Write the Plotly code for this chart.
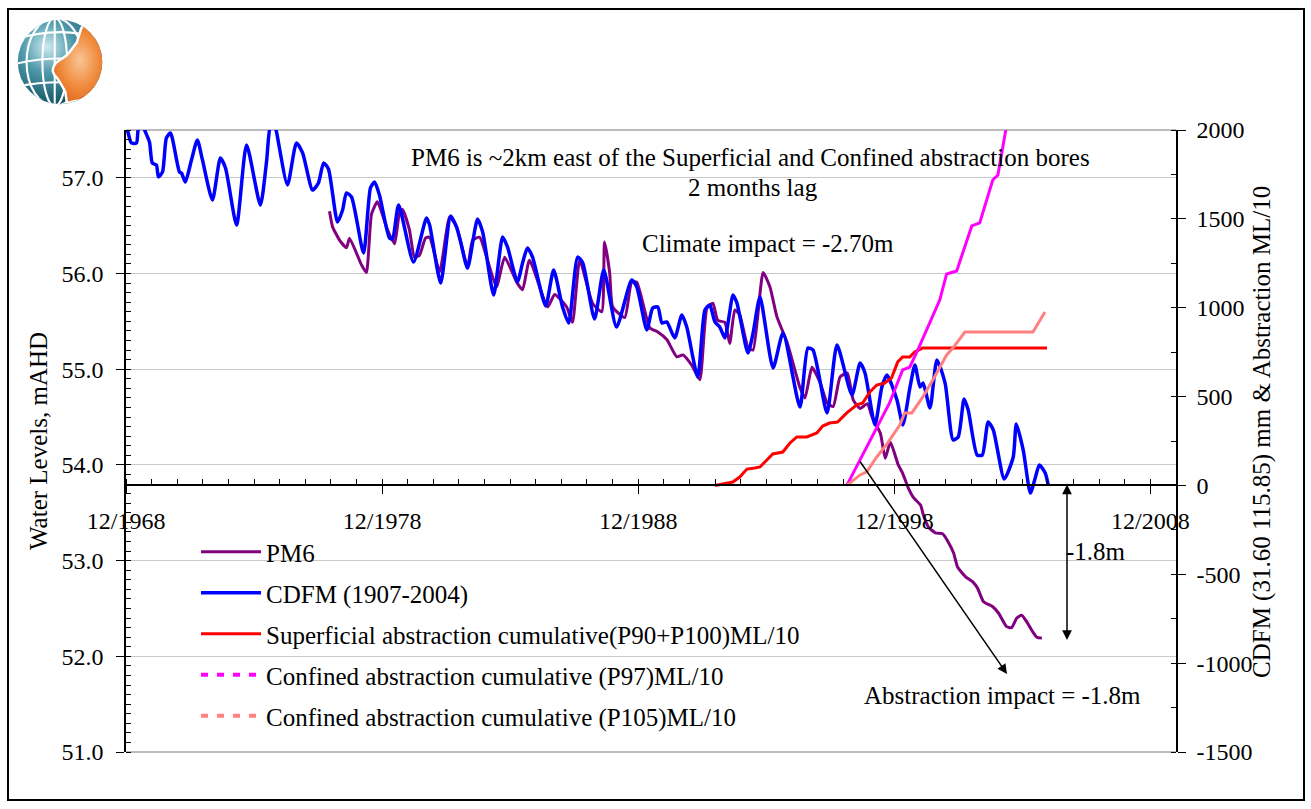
import base64
import pandas as pd
import plotly.graph_objects as go

# ---------------- data (decimal years) ----------------
# CDFM (1907-2004), mm  (right axis)
cdfm_t = [1968.89, 1968.97, 1969.12, 1969.32, 1969.40, 1969.55, 1969.67, 1969.83, 1969.94, 1970.10,
          1970.18, 1970.34, 1970.49, 1970.65, 1971.00, 1971.08, 1971.23, 1971.47, 1971.70, 1971.90,
          1972.29, 1972.60, 1972.80, 1973.23, 1973.62, 1974.16, 1974.40, 1974.56, 1974.71, 1974.79,
          1975.22, 1975.57, 1975.81, 1976.20, 1976.43, 1976.63, 1976.82, 1977.17, 1977.37, 1977.52,
          1977.72, 1978.19, 1978.46, 1978.62, 1978.81, 1979.20, 1979.32, 1979.56, 1980.14, 1980.65,
          1980.77, 1981.20, 1981.59, 1981.82, 1981.98, 1982.25, 1982.64, 1982.84, 1983.27, 1983.62,
          1983.81, 1984.20, 1984.40, 1984.59, 1984.79, 1985.30, 1985.61, 1985.96, 1986.20, 1986.55,
          1986.75, 1987.21, 1987.57, 1988.07, 1988.66, 1988.86, 1989.25, 1989.48, 1989.68, 1989.84,
          1990.03, 1990.34, 1990.62, 1990.81, 1991.24, 1991.52, 1991.71, 1991.91, 1992.10, 1992.30,
          1992.49, 1992.61, 1992.77, 1993.20, 1993.40, 1993.67, 1994.18, 1994.57, 1995.23, 1995.54,
          1995.74, 1996.29, 1996.68, 1997.26, 1997.58, 1997.77, 1998.16, 1998.43, 1998.63, 1999.02,
          1999.25, 1999.53, 1999.72, 1999.92, 2000.04, 2000.31, 2000.58, 2000.90, 2001.21, 2001.41,
          2001.64, 2001.80, 2002.15, 2002.35, 2002.58, 2002.78, 2003.21, 2003.56, 2003.68, 2003.95,
          2004.23, 2004.42, 2004.58, 2004.81, 2004.93]
cdfm_mm = [2028, 2000, 1927, 1927, 2011, 2028, 1989, 1932, 1814, 1803,
           1736, 1764, 1955, 1983, 1764, 1758, 1707, 1831, 1944, 1831,
           1606, 1842, 1786, 1465, 1916, 1578, 1820, 2028, 2034, 1989,
           1691, 1927, 1871, 1662, 1702, 1814, 1781, 1482, 1550, 1646,
           1623, 1308, 1674, 1707, 1634, 1392, 1387, 1578, 1257, 1505,
           1465, 1139, 1516, 1454, 1370, 1223, 1499, 1426, 1072, 1398,
           1342, 1145, 1252, 1336, 1285, 1010, 1212, 1004, 914, 1285,
           1252, 936, 1212, 891, 1156, 1117, 875, 998, 1004, 914,
           920, 830, 959, 891, 610, 987, 1015, 920, 891, 830,
           976, 1072, 1027, 745, 858, 1060, 661, 858, 441, 773,
           762, 408, 790, 509, 689, 633, 340, 554, 621, 481,
           340, 554, 678, 554, 576, 436, 706, 576, 256, 273,
           486, 424, 171, 171, 357, 312, 36, 160, 346, 199,
           -43, 42, 115, 70, 0]

# PM6 water level, mAHD (left axis)
pm6_t = [1976.86, 1976.98, 1977.25, 1977.52, 1977.64, 1978.11, 1978.30, 1978.50, 1978.73, 1979.12,
         1979.40, 1979.59, 1979.71, 1979.98, 1980.18, 1980.37, 1980.61, 1980.77, 1981.16, 1981.55,
         1981.82, 1982.25, 1982.45, 1982.72, 1983.03, 1983.38, 1983.70, 1984.17, 1984.40, 1984.67,
         1985.38, 1985.65, 1986.12, 1986.35, 1986.63, 1987.13, 1987.49, 1987.60, 1987.80, 1987.92,
         1988.39, 1988.66, 1988.86, 1989.37, 1989.68, 1990.03, 1990.42, 1990.66, 1991.01, 1991.32,
         1991.60, 1991.83, 1992.02, 1992.30, 1992.49, 1992.69, 1992.88, 1993.20, 1993.40, 1993.79,
         1994.06, 1994.33, 1994.73, 1995.23, 1995.43, 1995.70, 1996.02, 1996.29, 1996.53, 1996.80,
         1997.08, 1997.31, 1997.58, 1997.86, 1998.05, 1998.37, 1998.56, 1998.76, 1999.07, 1999.23,
         1999.46, 1999.66, 1999.94, 2000.05, 2000.25, 2000.52, 2000.80, 2001.03, 2001.23, 2001.39,
         2001.70, 2001.97, 2002.17, 2002.40, 2002.75, 2002.99, 2003.30, 2003.50, 2003.70, 2003.89,
         2004.09, 2004.29, 2004.48, 2004.68]
pm6_level = [56.65, 56.49, 56.35, 56.27, 56.37, 56.09, 56.01, 56.62, 56.75, 56.46,
             56.31, 56.63, 56.67, 56.46, 56.17, 56.19, 56.37, 56.38, 56.02, 56.59,
             56.49, 56.07, 56.35, 56.38, 56.14, 55.86, 56.17, 55.91, 55.83, 56.14,
             55.65, 55.78, 55.65, 55.49, 56.14, 55.69, 55.60, 56.33, 56.01, 55.65,
             55.54, 55.91, 55.91, 55.43, 55.39, 55.31, 55.13, 55.15, 55.04, 54.89,
             55.64, 55.69, 55.51, 55.49, 55.27, 55.62, 55.57, 55.23, 55.20, 56.01,
             55.86, 55.55, 55.28, 54.81, 54.70, 55.02, 54.86, 54.65, 54.61, 54.92,
             54.96, 54.68, 54.59, 54.64, 54.50, 54.33, 54.07, 54.24, 54.00, 53.92,
             53.76, 53.66, 53.58, 53.48, 53.35, 53.29, 53.28, 53.19, 53.08, 52.93,
             52.83, 52.78, 52.71, 52.57, 52.52, 52.45, 52.31, 52.30, 52.40, 52.43,
             52.36, 52.27, 52.20, 52.19]

# Superficial abstraction cumulative (P90+P100), ML/10
sup_t = [1991.91, 1992.37, 1992.61, 1992.88, 1993.16, 1993.47, 1993.67, 1993.94, 1994.17, 1994.56,
         1994.84, 1995.11, 1995.50, 1995.89, 1996.12, 1996.39, 1996.70, 1997.06, 1997.45, 1997.68,
         1997.96, 1998.23, 1998.54, 1998.81, 1999.05, 1999.24, 1999.52, 1999.71, 2000.02, 2004.88]
sup_ml = [0, 14, 19, 47, 92, 98, 104, 143, 177, 188,
          239, 273, 273, 295, 334, 351, 357, 408, 453, 464,
          526, 565, 576, 605, 695, 723, 723, 751, 773, 773]

# Confined abstraction cumulative (P97), ML/10
p97_t = [1997.06, 1997.58, 1998.23, 1998.73, 1999.24, 1999.52, 1999.83, 2000.18, 2000.69, 2000.96,
         2001.35, 2001.94, 2002.25, 2002.76, 2002.96, 2003.27, 2003.42]
p97_ml = [0, 143, 323, 464, 650, 666, 762, 875, 1043, 1190,
          1207, 1460, 1477, 1719, 1747, 2000, 2056]

# Confined abstraction cumulative (P105), ML/10
p105_t = [1997.06, 1997.58, 1997.84, 1998.23, 1998.66, 1999.13, 1999.32, 1999.60, 2000.03, 2000.42,
          2000.96, 2001.20, 2001.67, 2004.33, 2004.80]
p105_ml = [0, 59, 76, 160, 239, 340, 408, 408, 498, 593,
           734, 773, 863, 863, 976]

right_ticks = [-1500, -1000, -500, 0, 500, 1000, 1500, 2000]
right_ticktext = ["-1500", "-1000", "-500", "0", "500", "1000", "1500", "2000"]


def to_date(ts):
    out = []
    for t in ts:
        y = int(t)
        out.append(pd.Timestamp(y, 1, 1) + pd.Timedelta(days=(t - y) * 365.25))
    return out


FONT = "Liberation Serif, Times New Roman, serif"
W, H = 1311, 809
L, R, T, B = 126, 1176, 130, 752


def px(x):
    return (x - L) / (R - L)


def py(y):
    return (B - y) / (B - T)


fig = go.Figure()
fig.add_trace(go.Scatter(x=to_date(pm6_t), y=pm6_level, name="PM6", mode="lines",
                         line=dict(color="#800080", width=3, shape="spline", smoothing=0.5),
                         legendgroup="g1", yaxis="y"))
fig.add_trace(go.Scatter(x=to_date(cdfm_t), y=cdfm_mm, name="CDFM (1907-2004)", mode="lines",
                         line=dict(color="#0000FF", width=3.5, shape="spline", smoothing=0.6),
                         legendgroup="g2", yaxis="y2"))
fig.add_trace(go.Scatter(x=to_date(sup_t), y=sup_ml,
                         name="Superficial abstraction cumulative(P90+P100)ML/10", mode="lines",
                         line=dict(color="#FF0000", width=3), legendgroup="g3", yaxis="y2"))
fig.add_trace(go.Scatter(x=to_date(p97_t), y=p97_ml, name="Confined abstraction cumulative (P97)ML/10",
                         mode="lines", line=dict(color="#FF00FF", width=3), showlegend=False,
                         legendgroup="g4", yaxis="y2"))
fig.add_trace(go.Scatter(x=to_date(p105_t), y=p105_ml, name="Confined abstraction cumulative (P105)ML/10",
                         mode="lines", line=dict(color="#FF8080", width=3), showlegend=False,
                         legendgroup="g5", yaxis="y2"))
# legend entries (dotted sample as in the original legend)
fig.add_trace(go.Scatter(x=[None], y=[None], name="Confined abstraction cumulative (P97)ML/10",
                         mode="lines", line=dict(color="#FF00FF", width=4, dash="7px,9px"),
                         legendgroup="g4", yaxis="y2"))
fig.add_trace(go.Scatter(x=[None], y=[None], name="Confined abstraction cumulative (P105)ML/10",
                         mode="lines", line=dict(color="#FF8080", width=4, dash="7px,9px"),
                         legendgroup="g5", yaxis="y2"))

# logo (globe)
svg = '''<svg xmlns="http://www.w3.org/2000/svg" viewBox="0 0 100 100" width="200" height="200">
<defs>
<radialGradient id="g" cx="0.35" cy="0.32" r="0.75"><stop offset="0" stop-color="#cfeaf0"/><stop offset="0.4" stop-color="#4f9aab"/><stop offset="1" stop-color="#0b4a5b"/></radialGradient>
<radialGradient id="o" cx="0.45" cy="0.5" r="0.7"><stop offset="0" stop-color="#f9c594"/><stop offset="0.45" stop-color="#f08a3c"/><stop offset="1" stop-color="#d24f0c"/></radialGradient>
<clipPath id="c"><circle cx="50" cy="50" r="48"/></clipPath>
</defs>
<circle cx="50" cy="50" r="48" fill="url(#g)"/>
<g clip-path="url(#c)" stroke="#ffffff" stroke-width="2.4" fill="none">
<ellipse cx="44" cy="50" rx="14" ry="50"/><ellipse cx="44" cy="50" rx="32" ry="50"/><line x1="44" y1="0" x2="44" y2="100"/>
<path d="M0,24 Q50,8 100,24"/><path d="M0,52 Q50,40 100,52"/><path d="M0,78 Q50,68 100,78"/>
</g>
<g clip-path="url(#c)">
<path d="M82,0 L74,12 L69,28 C64,34 62,38 58,42 C52,47 46,49 44,53 C41,57 42,60 42,61 C43,65 46,67 48,70 C52,76 54,80 56,84 L58,97 C66,93 76,95 86,90 L110,70 L110,0 Z" fill="url(#o)" stroke="#ffffff" stroke-width="2.8"/>
</g>
</svg>'''
logo_src = "data:image/svg+xml;base64," + base64.b64encode(svg.encode()).decode()


def txt(text, x, y, angle=0, xanchor="center"):
    return dict(text=text, x=px(x), y=py(y), xref="paper", yref="paper", showarrow=False,
                xanchor=xanchor, yanchor="middle", textangle=angle,
                font=dict(size=25, family=FONT, color="black"))


annotations = [
    txt("PM6 is ~2km east of the Superficial and Confined abstraction bores", 750, 157),
    txt("2 months lag", 753, 187),
    txt("Climate impact = -2.70m", 768, 244),
    txt("Abstraction impact = -1.8m", 1002, 695),
    txt("-1.8m", 1064, 551, xanchor="left"),
    txt("Water Levels, mAHD", 38, 441, angle=-90),
    txt("CDFM (31.60 115.85) mm &amp; Abstraction ML/10", 1262, 432, angle=-90),
    # arrows
    dict(text="", x=px(1007), y=py(674), xref="paper", yref="paper", showarrow=True,
         ax=-148, ay=-214, arrowhead=2, arrowsize=1.3, arrowwidth=1.5, arrowcolor="black"),
    dict(text="", x=px(1067), y=py(640), xref="paper", yref="paper", showarrow=True,
         ax=0, ay=-157, arrowhead=2, startarrowhead=2, arrowside="end+start", arrowsize=1.3,
         startarrowsize=1.3, arrowwidth=1.5, arrowcolor="black"),
]

shapes = [
    dict(type="line", xref="paper", yref="paper", x0=0, x1=1, y0=1, y1=1,
         line=dict(color="#a6a6a6", width=1.5), layer="below"),
    dict(type="line", xref="paper", yref="paper", x0=0, x1=1, y0=0, y1=0,
         line=dict(color="#a6a6a6", width=1.5), layer="below"),
    dict(type="rect", xref="paper", yref="paper", x0=px(8), x1=px(1304), y0=py(800), y1=py(9),
         line=dict(color="black", width=2), fillcolor="rgba(0,0,0,0)"),
]

fig.update_layout(
    width=W, height=H,
    margin=dict(l=L, r=W - R, t=T, b=H - B, pad=0),
    paper_bgcolor="white", plot_bgcolor="white",
    font=dict(family=FONT, size=24, color="black"),
    showlegend=True,
    legend=dict(x=px(196), y=py(529), xanchor="left", yanchor="top",
                bgcolor="rgba(0,0,0,0)", font=dict(size=25, family=FONT, color="black"),
                traceorder="grouped", tracegroupgap=5.5, itemwidth=60),
    xaxis=dict(type="date", range=["1968-11-30", "2009-12-01"],
               tick0="1968-12-01", dtick="M120", tickformat="%m/%Y",
               ticks="outside", ticklen=8, tickwidth=1.3, tickcolor="black",
               minor=dict(dtick="M12", tick0="1968-12-01", ticks="inside", ticklen=6,
                          tickcolor="black", tickwidth=1.2, showgrid=False),
               showline=True, linecolor="black", linewidth=1.5, showgrid=False, zeroline=False,
               anchor="free", position=1500 / 3500, ticklabelstandoff=6,
               tickfont=dict(size=24, family=FONT, color="black")),
    yaxis=dict(range=[51, 57.5], tick0=51, dtick=1, tickformat=".1f",
               ticks="outside", ticklen=8, tickwidth=1.3, tickcolor="black",
               minor=dict(dtick=0.1, tick0=51, ticks="inside", ticklen=5, tickcolor="black",
                          tickwidth=1, showgrid=False),
               showline=True, linecolor="black", linewidth=1.5,
               showgrid=True, gridcolor="#c8c8c8", gridwidth=1.3, zeroline=False,
               ticklabelstandoff=8, tickfont=dict(size=24, family=FONT, color="black")),
    yaxis2=dict(range=[-1500, 2000], overlaying="y", side="right",
                tickmode="array", tickvals=right_ticks, ticktext=right_ticktext,
                ticks="outside", ticklen=8, tickwidth=1.3, tickcolor="black",
                minor=dict(tickmode="linear", tick0=-1500, dtick=250, ticks="inside", ticklen=5,
                           tickcolor="black", tickwidth=1, showgrid=False),
                showline=True, linecolor="black", linewidth=1.5, showgrid=False, zeroline=False,
                ticklabelstandoff=6, tickfont=dict(size=24, family=FONT, color="black")),
    annotations=annotations,
    shapes=shapes,
    images=[dict(source=logo_src, xref="paper", yref="paper", x=px(16), y=py(18),
                 sizex=88 / (R - L), sizey=88 / (B - T), sizing="stretch",
                 xanchor="left", yanchor="top", layer="above")],
)

fig.write_html("out.html")
